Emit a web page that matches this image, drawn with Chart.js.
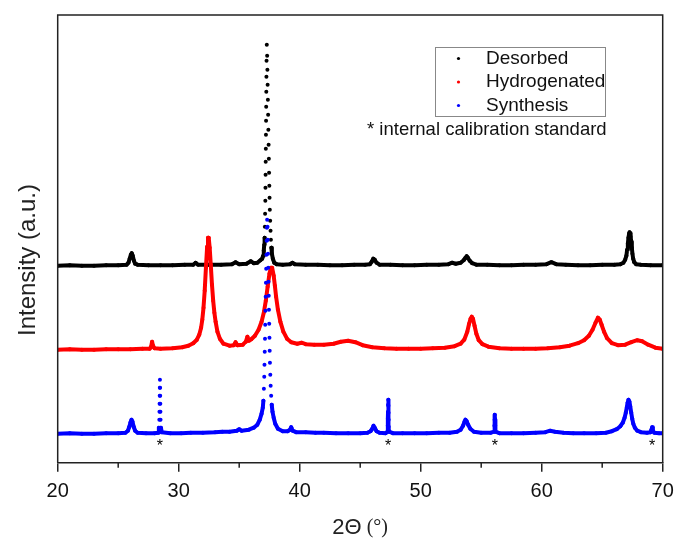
<!DOCTYPE html>
<html>
<head>
<meta charset="utf-8">
<script src="https://cdn.jsdelivr.net/npm/chart.js@4.4.1/dist/chart.umd.min.js"></script>
<style>
  html, body { margin: 0; padding: 0; background: #fff; }
</style>
</head>
<body>
<canvas id="xrdChart" width="675" height="541"></canvas>
<script>
// Axis ticks and markers
const xTicks = [20, 30, 40, 50, 60, 70];
const xMinorTicks = [25, 35, 45, 55, 65];
const calibrationPeaks = [28.45, 47.3, 56.13, 69.13];
const seriesNames = ['Desorbed', 'Hydrogenated', 'Synthesis'];
const seriesColors = ['#000000', '#ff0000', '#0000ff'];

// [2theta, intensity] (arbitrary units)
const desorbed = [
  [20,197],[21,197.5],[22,197],[23,197],[24,197.5],[25,197.5],[25.7,198],[25.85,200],[25.95,204],[26.05,208],
  [26.12,209.5],[26.2,207],[26.3,202],[26.4,199],[26.6,198],[27.5,197.5],[28.5,197.5],[29.5,197.5],[30.5,198],
  [31.2,198],[31.4,200],[31.6,198],[32.5,198],[33.5,198],[34.4,198.5],[34.7,200.5],[35.0,198.5],[35.6,199],
  [35.95,201.5],[36.2,199.5],[36.5,200],[36.75,202.5],[36.9,204],[36.98,207],[37.03,212],[37.07,218],[37.10,225],
  [37.12,236],[37.14,249],[37.16,262],[37.17,275],[37.18,288],[37.19,301],[37.20,314],[37.21,328],[37.22,342],
  [37.23,356],[37.24,371],[37.25,386],[37.26,402],[37.28,418],[37.31,407],[37.33,393],[37.35,378],[37.37,363],
  [37.39,348],[37.41,333],[37.43,318],[37.45,304],[37.47,290],[37.49,277],[37.51,265],[37.53,253],[37.56,242],
  [37.59,232],[37.62,223],[37.66,215],[37.7,209],[37.78,204],[37.9,200],[38.1,198.5],[38.6,198],[39.2,198.5],
  [39.4,200],[39.6,198.5],[40.5,198],[41.5,198],[42.5,197.5],[43.5,197.5],[44.5,198],[45.4,198],[45.8,198.5],
  [45.95,201],[46.08,204],[46.2,203],[46.35,200],[46.6,198],[47.5,198],[48.5,197.5],[49.5,197.5],[50.5,198],
  [51.5,198],[52.3,198.5],[52.6,200],[52.9,199],[53.3,200],[53.55,202.5],[53.7,205],[53.8,206.5],[53.9,205],
  [54.05,202],[54.25,199.5],[54.6,198],[55.5,198],[56.5,197.5],[57.5,197.5],[58.5,198],[59.5,198],[60.4,198.5],
  [60.8,200.5],[61.2,198.5],[62,198],[63,197.5],[64,197.5],[65,198],[66,198],[66.5,198.5],[66.75,200],[66.9,203],
  [67.0,207],[67.06,213],[67.12,219],[67.17,225],[67.22,229],[67.26,230.5],[67.3,229.5],[67.35,226],[67.4,221],
  [67.45,215],[67.5,209],[67.56,204],[67.65,200.5],[67.8,198.5],[68.2,198],[69,197.5],[70,197.5]
];

const hydrogenated = [
  [20,113],[21,113.5],[22,113],[23,113],[24,113.5],[25,113.5],[26,113.5],[27,114],[27.6,114],[27.72,116],
  [27.8,121],[27.88,117],[28.0,114.5],[28.5,114],[29.5,114.5],[30.3,115.5],[30.8,117],[31.2,119.5],[31.5,123],
  [31.7,128],[31.85,135],[31.95,143],[32.05,155],[32.15,172],[32.25,195],[32.35,216],[32.42,225],[32.48,225],
  [32.56,215],[32.65,198],[32.75,178],[32.85,162],[32.95,150],[33.05,141],[33.2,131],[33.4,124],[33.7,119],
  [34.2,117],[34.55,117.5],[34.7,120.5],[34.85,117.5],[35.3,118],[35.55,121],[35.68,126],[35.8,122],[36.0,123.5],
  [36.3,127],[36.6,133],[36.85,141],[37.05,151],[37.2,162],[37.35,176],[37.5,189],[37.62,195],[37.72,195],
  [37.85,187],[37.95,177],[38.05,166],[38.2,153],[38.4,141],[38.65,131],[38.95,124],[39.3,120.5],[39.8,119],
  [40.15,120],[40.5,118.5],[41.2,118],[42,118],[42.8,119],[43.4,121],[44.0,122],[44.6,120.5],[45.2,117.5],
  [46,115.5],[47,114.5],[48,114],[49,114],[50,114],[51,114.5],[52,115],[52.8,116.5],[53.3,119],[53.6,123],
  [53.85,131],[54.0,139],[54.12,144],[54.22,146],[54.32,144],[54.45,137],[54.6,129],[54.8,122.5],[55.1,118.5],
  [55.6,116],[56.5,114.5],[57.5,114],[58.5,114],[59.5,114],[60.5,114.5],[61.5,115.5],[62.3,117],[63,119.5],
  [63.5,122.5],[63.9,127],[64.2,133],[64.45,140],[64.65,145],[64.8,143],[64.95,138],[65.15,131],[65.4,124.5],
  [65.8,119.5],[66.3,117.5],[66.9,118],[67.4,120.5],[67.9,122.5],[68.3,121.5],[68.8,118],[69.4,115],[70,114]
];

const synthesis = [
  [20,29],[21,29.5],[22,29],[23,29],[24,29.5],[25,29.5],[25.6,30],[25.8,32],[25.92,36],[26.02,40.5],[26.1,43],
  [26.18,41],[26.28,36],[26.4,32],[26.6,30],[27.3,29.5],[28.0,29.5],[28.3,30],[28.36,35],[28.40,43],[28.41,51],
  [28.42,59],[28.43,67],[28.44,75],[28.45,83],[28.46,75],[28.47,67],[28.48,59],[28.49,51],[28.50,43],[28.53,35],
  [28.6,30.5],[29.3,29.5],[30.2,29.5],[31.0,30],[32,30],[33,30.5],[33.6,31],[34.2,31],[34.8,32],[35.0,33.5],
  [35.2,32],[35.8,33],[36.2,35],[36.5,38],[36.7,43],[36.85,49],[36.95,55],[37.0,62],[37.04,74],[37.07,86],
  [37.09,98],[37.11,111],[37.13,124],[37.15,138],[37.17,152],[37.19,166],[37.21,180],[37.23,194],[37.25,208],
  [37.27,222],[37.29,235],[37.31,243],[37.34,236],[37.36,223],[37.38,209],[37.40,195],[37.42,181],[37.44,167],
  [37.46,153],[37.48,139],[37.50,125],[37.52,112],[37.54,100],[37.57,88],[37.60,77],[37.64,67],[37.69,58],
  [37.75,51],[37.85,45],[37.98,39],[38.2,34],[38.6,31.5],[39.0,31.5],[39.2,33],[39.3,35.5],[39.42,32],
  [39.7,30.5],[40.5,30.5],[41.3,30],[42,30],[43,29.5],[44,29.5],[45,29.5],[45.6,30],[45.85,31.5],[46.0,34],
  [46.1,37],[46.2,35],[46.35,31.5],[46.6,30],[47.1,29.5],[47.25,31],[47.28,37],[47.29,44],[47.30,51],[47.31,58],
  [47.32,63],[47.33,57],[47.34,50],[47.35,43],[47.36,36],[47.39,31],[47.7,29.5],[48.5,29.5],[49.5,29.5],
  [50.5,29.5],[51.5,30],[52.4,30],[53.0,31],[53.3,33],[53.5,37],[53.62,41],[53.7,43],[53.8,41.5],[53.92,38],
  [54.1,34],[54.4,31],[55,30],[55.8,30],[56.06,31],[56.09,37],[56.11,43],[56.13,48],[56.15,43],[56.16,37],
  [56.19,31],[56.5,29.5],[57.5,29.5],[58.5,29.5],[59.5,30],[60.3,30.5],[60.7,32],[61.1,31],[61.8,30],
  [62.6,29.5],[63.5,29.5],[64.5,29.5],[65.3,30],[65.8,31.5],[66.2,33.5],[66.5,36.5],[66.7,40],[66.85,45],
  [66.95,50],[67.03,55],[67.1,60],[67.17,63],[67.25,61],[67.32,56],[67.4,50],[67.48,44],[67.57,39],[67.7,35],
  [67.9,32],[68.2,30.5],[68.7,30],[69.0,30.5],[69.07,33],[69.13,35.5],[69.19,32],[69.3,30],[69.7,29.5],[70,29.5]
];

const FONT = '"Liberation Sans", Arial, sans-serif';
const AXIS_COLOR = '#222';

// steep, widely spaced segments are left out so the sharp peaks read as dots
function steepGap(ctx) {
  const dx = ctx.p1.x - ctx.p0.x;
  const dy = ctx.p1.y - ctx.p0.y;
  return Math.abs(dy) > 7 && Math.abs(dy) > 2 * Math.abs(dx) ? 'rgba(0,0,0,0)' : undefined;
}

function makeDataset(points, idx, order, dotted) {
  const ds = {
    label: seriesNames[idx],
    data: points.map(p => ({ x: p[0], y: p[1] })),
    showLine: true,
    borderColor: seriesColors[idx],
    backgroundColor: seriesColors[idx],
    borderWidth: 4,
    borderJoinStyle: 'round',
    borderCapStyle: 'round',
    pointRadius: 2,
    pointBorderWidth: 0,
    pointHoverRadius: 0,
    tension: 0,
    order
  };
  if (dotted) ds.segment = { borderColor: steepGap };
  return ds;
}

const decorPlugin = {
  id: 'decor',
  afterDraw(chart) {
    const { ctx, chartArea: a, scales } = chart;
    const xs = scales.x, ys = scales.y;
    ctx.save();

    // frame: left, top, right (bottom comes from the x axis)
    ctx.strokeStyle = AXIS_COLOR;
    ctx.lineWidth = 1.5;
    ctx.beginPath();
    ctx.moveTo(a.left, a.bottom);
    ctx.lineTo(a.left, a.top);
    ctx.lineTo(a.right, a.top);
    ctx.lineTo(a.right, a.bottom);
    ctx.stroke();

    // minor ticks
    ctx.beginPath();
    xMinorTicks.forEach(v => {
      const px = xs.getPixelForValue(v);
      ctx.moveTo(px, a.bottom);
      ctx.lineTo(px, a.bottom + 5);
    });
    ctx.stroke();

    // calibration markers
    ctx.fillStyle = '#000';
    ctx.font = '16px ' + FONT;
    ctx.textAlign = 'center';
    ctx.textBaseline = 'middle';
    calibrationPeaks.forEach(v => {
      ctx.fillText('*', xs.getPixelForValue(v), ys.getPixelForValue(16));
    });

    // legend
    ctx.strokeStyle = '#888';
    ctx.lineWidth = 1;
    ctx.strokeRect(435.5, 47.5, 170, 69);
    ctx.font = '19px ' + FONT;
    ctx.textAlign = 'left';
    const rows = [58.5, 82, 105.5];
    seriesNames.forEach((name, i) => {
      ctx.fillStyle = seriesColors[i];
      ctx.beginPath();
      ctx.arc(458.5, rows[i], 1.6, 0, Math.PI * 2);
      ctx.fill();
      ctx.fillStyle = '#111';
      ctx.fillText(name, 486, rows[i]);
    });
    ctx.font = '18.5px ' + FONT;
    ctx.fillText('* internal calibration standard', 367, 129.5);

    // axis titles
    ctx.fillStyle = '#222';
    ctx.save();
    ctx.translate(28, 260);
    ctx.rotate(-Math.PI / 2);
    ctx.textAlign = 'center';
    ctx.font = '24px ' + FONT;
    ctx.fillText('Intensity (a.u.)', 0, 0);
    ctx.restore();

    ctx.textAlign = 'left';
    ctx.font = '22px ' + FONT;
    const t1 = '2\u0398';
    const t2 = ' (\u00b0)';
    const w1 = ctx.measureText(t1).width;
    ctx.font = '20px "Liberation Serif", serif';
    const w2 = ctx.measureText(t2).width;
    const startX = (a.left + a.right) / 2 - (w1 + w2) / 2;
    ctx.font = '22px ' + FONT;
    ctx.fillText(t1, startX, 528);
    ctx.font = '20px "Liberation Serif", serif';
    ctx.fillText(t2, startX + w1, 528);

    ctx.restore();
  }
};

new Chart(document.getElementById('xrdChart'), {
  type: 'scatter',
  data: {
    datasets: [
      makeDataset(desorbed, 0, 3, true),
      makeDataset(hydrogenated, 1, 2, false),
      makeDataset(synthesis, 2, 1, true)
    ]
  },
  options: {
    responsive: false,
    animation: false,
    devicePixelRatio: 1,
    layout: { padding: { left: 57.7, right: 12.3, top: 15, bottom: 0 } },
    plugins: {
      legend: { display: false },
      tooltip: { enabled: false }
    },
    scales: {
      x: {
        type: 'linear',
        min: 20,
        max: 70,
        afterBuildTicks: scale => { scale.ticks = xTicks.map(v => ({ value: v })); },
        afterFit: scale => {
          scale.height = 78.3;
          scale.paddingLeft = 0;
          scale.paddingRight = 0;
        },
        grid: { display: true, drawOnChartArea: false, drawTicks: true, tickLength: 9, color: AXIS_COLOR, lineWidth: 1.5 },
        border: { display: true, color: AXIS_COLOR, width: 1.5 },
        ticks: { color: '#111', font: { family: FONT, size: 20 }, padding: 8, maxRotation: 0, autoSkip: false }
      },
      y: { display: false, min: 0, max: 447.7 }
    }
  },
  plugins: [decorPlugin]
});
</script>
</body>
</html>
